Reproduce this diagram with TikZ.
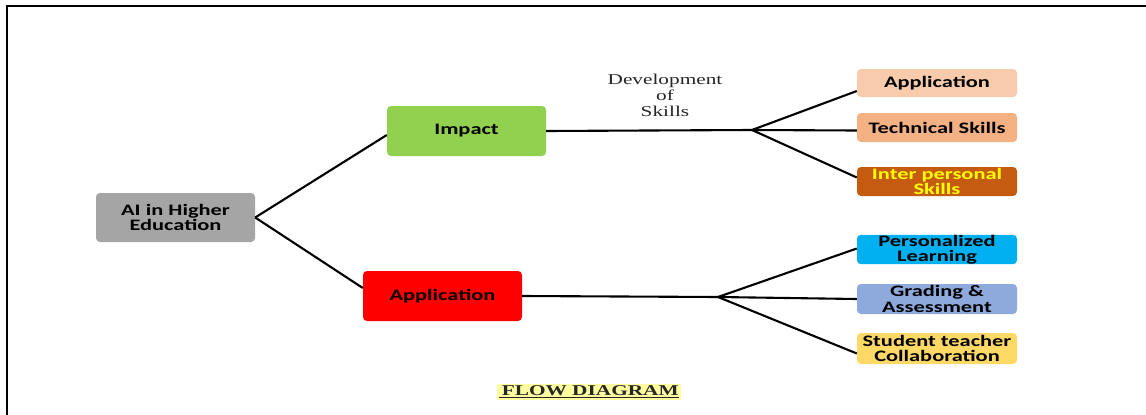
\documentclass[tikz,border=0pt]{standalone}
\usepackage{fontspec}
\newfontfamily\boxfont{Carlito}[FakeStretch=1.40]
\newfontfamily\serfont{Liberation Serif}[FakeStretch=1.42]
\definecolor{cgray}{HTML}{A5A5A5}
\definecolor{cgreen}{HTML}{92D050}
\definecolor{cred}{HTML}{FF0000}
\definecolor{cpeach}{HTML}{F8CBAD}
\definecolor{ctech}{HTML}{F4B183}
\definecolor{cinter}{HTML}{C55A11}
\definecolor{cyel}{HTML}{FFFF00}
\definecolor{cblue}{HTML}{00B0F0}
\definecolor{cgrad}{HTML}{8EA9DB}
\definecolor{cstud}{HTML}{FFD966}
\definecolor{chl}{HTML}{FFFFA0}
\begin{document}
\begin{tikzpicture}[x=1pt,y=-1pt,
  box/.style={rounded corners=4pt, inner sep=0pt, align=center,
    font=\boxfont\bfseries\fontsize{16}{15.5}\selectfont, text=black},
  bigbox/.style={box, minimum width=159pt, minimum height=50pt},
  smallbox/.style={box, minimum width=160pt, minimum height=29pt},
  conn/.style={line width=2.1pt, black}]
\useasboundingbox (0,0) rectangle (1146,415);
\fill[white] (0,0) rectangle (1146,415);
\draw[line width=1.2pt] (7,415) -- (7,6) -- (1146,6);

\node[bigbox, fill=cgray, minimum height=49pt] (ai) at (175.5,217.5) {AI in Higher\\Education};
\node[bigbox, fill=cgreen] (impact) at (466.5,131) {Impact};
\node[bigbox, fill=cred] (app) at (442.5,296) {Application};

\node[smallbox, fill=cpeach, minimum height=28pt] (rapp) at (937,83) {Application};
\node[smallbox, fill=ctech] (rtech) at (937,127.5) {Technical Skills};
\node[smallbox, fill=cinter, text=cyel] (rinter) at (937,181.5) {Inter personal\\Skills};
\node[smallbox, fill=cblue] (rpers) at (937,249.5) {Personalized\\Learning};
\node[smallbox, fill=cgrad, minimum height=30pt] (rgrad) at (937,299) {Grading \&\\Assessment};
\node[smallbox, fill=cstud, minimum height=31pt] (rstud) at (937,348.5) {Student teacher\\Collaboration};

\coordinate (b1) at (752,130);
\coordinate (b2) at (718,297);

\draw[conn] (ai.east) -- ([yshift=-4pt]impact.west);
\draw[conn] (ai.east) -- ([yshift=8pt]app.west);
\draw[conn] (impact.east) -- (b1);
\draw[conn] (app.east) -- (b2);
\draw[conn] (b1) -- ([yshift=-8pt]rapp.west);
\draw[conn] (b1) -- ([yshift=-3pt]rtech.west);
\draw[conn] (b1) -- ([yshift=4pt]rinter.west);
\draw[conn] (b2) -- ([yshift=1pt]rpers.west);
\draw[conn] (b2) -- (rgrad.west);
\draw[conn] (b2) -- ([yshift=-5pt]rstud.west);

\node[font=\serfont\fontsize{15}{16}\selectfont, align=center, inner sep=0pt, text=black!85] (dev) at (665,95) {Development\\of\\Skills};

\node[fill=chl, inner sep=2pt, font=\serfont\bfseries\fontsize{15}{15}\selectfont, text=black!85] (title) at (589,392) {\underline{\,FLOW DIAGRAM}};
\end{tikzpicture}
\end{document}
